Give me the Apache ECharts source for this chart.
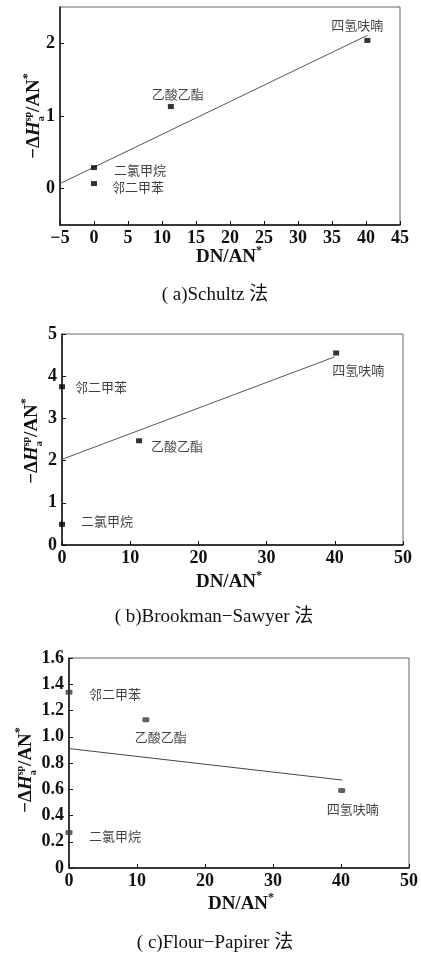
<!DOCTYPE html>
<html>
<head>
<meta charset="utf-8">
<script src="https://cdn.jsdelivr.net/npm/echarts@6/dist/echarts.min.js"></script>
<style>
html, body { margin: 0; padding: 0; background: #fff; }
#chart { width: 421px; height: 954px; }
</style>
</head>
<body>
<div id="chart"></div>
<script>
// (a) Schultz 法
var solventsA = ['四氢呋喃', '乙酸乙酯', '二氯甲烷', '邻二甲苯'];
var dnA = [40.2, 11.3, 0, 0];
var hA = [2.04, 1.13, 0.29, 0.07];
var fitA = [[-5, 0.07], [40.2, 2.11]];

// (b) Brookman-Sawyer 法
var solventsB = ['四氢呋喃', '邻二甲苯', '乙酸乙酯', '二氯甲烷'];
var dnB = [40.2, 0, 11.3, 0];
var hB = [4.55, 3.75, 2.47, 0.49];
var fitB = [[0, 2.03], [40, 4.46]];

// (c) Flour-Papirer 法
var solventsC = ['邻二甲苯', '乙酸乙酯', '四氢呋喃', '二氯甲烷'];
var dnC = [0, 11.3, 40.1, 0];
var hC = [1.34, 1.13, 0.59, 0.27];
var fitC = [[0, 0.91], [40.2, 0.67]];

var captions = ['( a)Schultz 法', '( b)Brookman−Sawyer 法', '( c)Flour−Papirer 法'];

// label offsets (px) for the solvent names
var offA = [[-10, -15], [7, -12], [46, 2], [44, 3]];
var offB = [[22, 17], [39, 0], [38, 5], [45, -3]];
var offC = [[46, 2], [15, 17], [11, 18], [46, 3]];

var SERIF = '"Liberation Serif", "Times New Roman", serif';
var CJK = '"Noto Sans CJK SC", sans-serif';
var INK = '#111';

var myChart = echarts.init(document.getElementById('chart'));

var ctx = document.createElement('canvas').getContext('2d');
function measure(t, f) { ctx.font = f; return ctx.measureText(t).width; }

// text made of pieces (for sub/superscripts), centred on (cx, cy)
function pieces(parts, cx, cy, rot) {
    var x = 0, kept = 0, kids = [];
    parts.forEach(function (p) {
        var w = measure(p.t, p.f);
        kids.push({
            type: 'text', x: x, y: p.dy || 0,
            style: { text: p.t, font: p.f, fill: INK, align: 'left', verticalAlign: 'middle',
                     textAlign: 'left', textVerticalAlign: 'middle' }
        });
        if (p.keep) { kept = w; }
        else { x += Math.max(w, kept); kept = 0; }
    });
    kids.forEach(function (k) { k.x -= x / 2; });
    return { type: 'group', x: cx, y: cy, rotation: rot || 0, children: kids };
}

var B19 = 'bold 19px ' + SERIF;
var BI19 = 'italic bold 19px ' + SERIF;
var S10 = 'bold 10px ' + SERIF;
var S12 = 'bold 12px ' + SERIF;

function yTitle(cx, cy) {
    return pieces([
        { t: '−Δ', f: B19 },
        { t: 'H', f: BI19 },
        { t: 'sp', f: S10, dy: -6, keep: true },
        { t: 'a', f: S10, dy: 7 },
        { t: '/AN', f: B19 },
        { t: '*', f: S12, dy: -6 }
    ], cx, cy, Math.PI / 2);
}
function xTitle(cx, cy) {
    return pieces([
        { t: 'DN/AN', f: B19 },
        { t: '*', f: S12, dy: -6 }
    ], cx, cy, 0);
}
function caption(t, cx, cy) {
    return {
        type: 'text', x: cx, y: cy,
        style: { text: t, font: '19px ' + SERIF + ', ' + CJK, fill: INK,
                 align: 'center', verticalAlign: 'middle', textAlign: 'center', textVerticalAlign: 'middle' }
    };
}

function minus(v) { return v < 0 ? '−' + Math.abs(v) : String(v); }

function xAxisCfg(gi, min, max, interval) {
    return {
        type: 'value', gridIndex: gi, min: min, max: max, interval: interval,
        axisLine: { show: true, onZero: false, lineStyle: { color: INK, width: 1.5 } },
        axisTick: { show: true, inside: true, length: 4, lineStyle: { color: INK, width: 1 } },
        axisLabel: { color: INK, fontFamily: SERIF, fontWeight: 'bold', fontSize: 18, margin: 4, formatter: minus },
        splitLine: { show: false }
    };
}
function yAxisCfg(gi, min, max, interval, fmt, custom) {
    var ax = {
        type: 'value', gridIndex: gi, min: min, max: max, interval: interval,
        axisLine: { show: true, onZero: false, lineStyle: { color: INK, width: 1.5 } },
        axisTick: { show: true, inside: true, length: 4, lineStyle: { color: INK, width: 1 } },
        axisLabel: { color: INK, fontFamily: SERIF, fontWeight: 'bold', fontSize: 18, margin: 5, formatter: fmt },
        splitLine: { show: false }
    };
    if (custom) {
        ax.axisTick.customValues = custom;
        ax.axisLabel.customValues = custom;
    }
    return ax;
}

function points(names, xs, ys, offs, gi, sym, size, color) {
    return {
        type: 'scatter', xAxisIndex: gi, yAxisIndex: gi, clip: false, z: 3,
        symbol: sym, symbolSize: size,
        itemStyle: { color: color },
        label: { show: true, position: 'inside', formatter: '{b}', color: INK, fontFamily: CJK, fontSize: 13 },
        data: xs.map(function (x, i) {
            return { name: names[i], value: [x, ys[i]], label: { offset: offs[i] } };
        })
    };
}
function fit(data, gi, color) {
    return {
        type: 'line', xAxisIndex: gi, yAxisIndex: gi, data: data, symbol: 'none', z: 2,
        lineStyle: { color: color, width: 1 }, silent: true
    };
}

var frame = { show: true, borderColor: '#666', borderWidth: 1, backgroundColor: 'transparent' };

var option = {
    animation: false,
    grid: [
        Object.assign({ left: 60, top: 7, width: 340, height: 218 }, frame),
        Object.assign({ left: 62, top: 334, width: 341, height: 211 }, frame),
        Object.assign({ left: 69, top: 658, width: 340, height: 210 }, frame)
    ],
    xAxis: [
        xAxisCfg(0, -5, 45, 5),
        xAxisCfg(1, 0, 50, 10),
        xAxisCfg(2, 0, 50, 10)
    ],
    yAxis: [
        yAxisCfg(0, -0.5, 2.5, 0.5, function (v) { return String(v); }, [0, 1, 2]),
        yAxisCfg(1, 0, 5, 1, function (v) { return String(v); }),
        yAxisCfg(2, 0, 1.6, 0.2, function (v) { return v === 0 ? '0' : v.toFixed(1); })
    ],
    series: [
        fit(fitA, 0, '#555'),
        points(solventsA, dnA, hA, offA, 0, 'rect', [6, 5], '#000'),
        fit(fitB, 1, '#555'),
        points(solventsB, dnB, hB, offB, 1, 'rect', [6, 5], '#000'),
        fit(fitC, 2, '#444'),
        points(solventsC, dnC, hC, offC, 2, 'roundRect', [7, 5], '#3a3a3a')
    ],
    graphic: [
        yTitle(34, 116), xTitle(229, 257), caption(captions[0], 215, 295),
        yTitle(32, 441), xTitle(229, 582), caption(captions[1], 214, 617),
        yTitle(26, 770), xTitle(241, 904), caption(captions[2], 215, 943)
    ]
};

myChart.setOption(option);
</script>
</body>
</html>
